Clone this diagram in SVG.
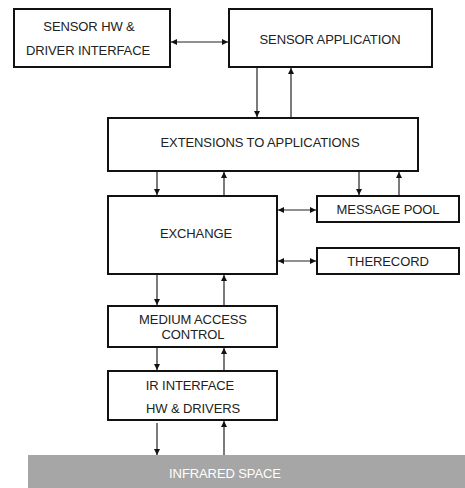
<svg xmlns="http://www.w3.org/2000/svg" width="465" height="488" viewBox="0 0 465 488">
<style>
.box{fill:#fff;stroke:#111;stroke-width:2}
.t{font-family:"Liberation Sans",Arial,sans-serif;font-size:13px;fill:#222;text-anchor:middle;letter-spacing:-0.1px}
.c{stroke:#222;stroke-width:1.2;fill:none}
</style>
<defs>
<marker id="ah" viewBox="0 0 10 10" refX="10" refY="5" markerWidth="6" markerHeight="6" markerUnits="userSpaceOnUse" orient="auto-start-reverse">
<path d="M0,0L10,5L0,10z" fill="#111"/>
</marker>
</defs>
<rect x="0" y="0" width="465" height="488" fill="#fff"/>
<g id="infrared">
<rect x="28" y="455" width="437" height="33" fill="#a6a6a6"/>
<text class="t" x="225" y="478" style="fill:#fff">INFRARED SPACE</text>
</g>
<g id="sensor-hw">
<rect class="box" x="14" y="9" width="156" height="58"/>
<text class="t" x="89" y="31">SENSOR HW &amp;</text>
<text class="t" x="88" y="55">DRIVER INTERFACE</text>
</g>
<g id="sensor-app">
<rect class="box" x="229" y="9" width="203" height="58"/>
<text class="t" x="330" y="44">SENSOR APPLICATION</text>
</g>
<g id="extensions">
<rect class="box" x="108" y="118" width="310" height="53"/>
<text class="t" x="260" y="147">EXTENSIONS TO APPLICATIONS</text>
</g>
<g id="exchange">
<rect class="box" x="108" y="196" width="169" height="78"/>
<text class="t" x="196" y="238">EXCHANGE</text>
</g>
<g id="message-pool">
<rect class="box" x="317" y="196" width="142" height="26"/>
<text class="t" x="388" y="214">MESSAGE POOL</text>
</g>
<g id="therecord">
<rect class="box" x="317" y="248" width="142" height="26"/>
<text class="t" x="388" y="266">THERECORD</text>
</g>
<g id="mac">
<rect class="box" x="108" y="306" width="169" height="41"/>
<text class="t" x="193" y="324">MEDIUM ACCESS</text>
<text class="t" x="193" y="339">CONTROL</text>
</g>
<g id="ir">
<rect class="box" x="108" y="371" width="169" height="49"/>
<text class="t" x="190" y="390">IR INTERFACE</text>
<text class="t" x="193" y="413">HW &amp; DRIVERS</text>
</g>
<g id="connectors">
<path class="c" d="M171,42H228" marker-start="url(#ah)" marker-end="url(#ah)"/>
<path class="c" d="M257,68V117" marker-end="url(#ah)"/>
<path class="c" d="M291,117V68" marker-end="url(#ah)"/>
<path class="c" d="M157,172V195" marker-end="url(#ah)"/>
<path class="c" d="M224,195V172" marker-end="url(#ah)"/>
<path class="c" d="M359,172V195" marker-end="url(#ah)"/>
<path class="c" d="M399,195V172" marker-end="url(#ah)"/>
<path class="c" d="M278,210H316" marker-start="url(#ah)" marker-end="url(#ah)"/>
<path class="c" d="M278,261H316" marker-start="url(#ah)" marker-end="url(#ah)"/>
<path class="c" d="M157,275V305" marker-end="url(#ah)"/>
<path class="c" d="M224,305V275" marker-end="url(#ah)"/>
<path class="c" d="M157,348V370" marker-end="url(#ah)"/>
<path class="c" d="M224,370V348" marker-end="url(#ah)"/>
<path class="c" d="M157,423V455" marker-end="url(#ah)"/>
<path class="c" d="M224,455V421" marker-end="url(#ah)"/>
</g>
</svg>
